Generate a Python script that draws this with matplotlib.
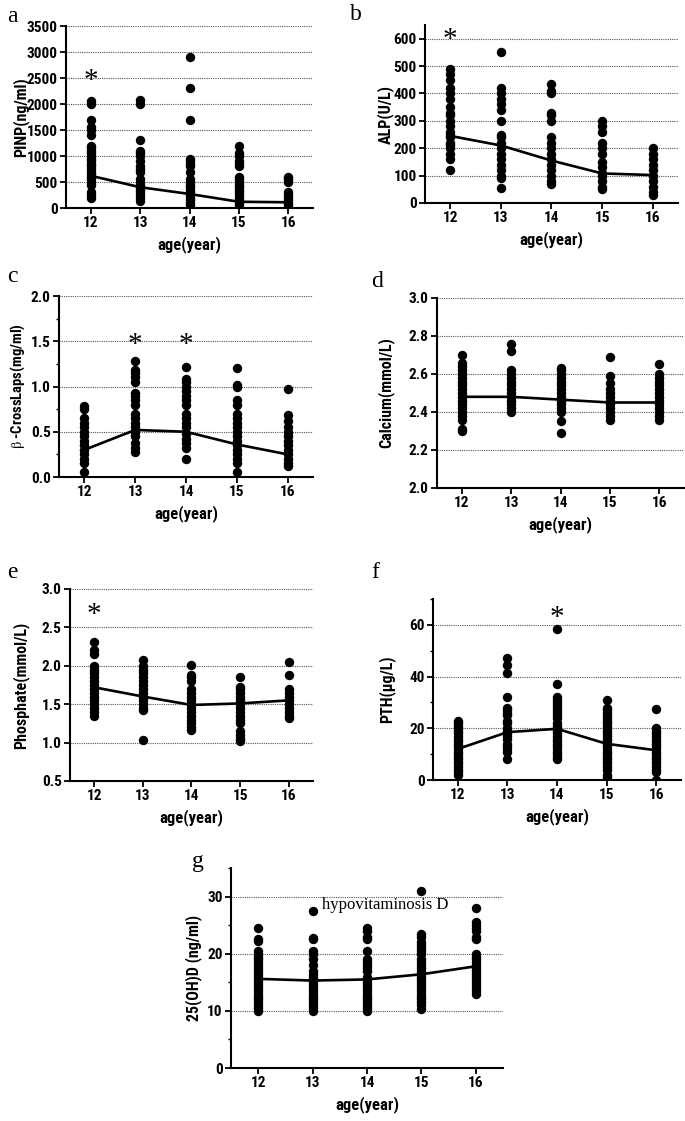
import numpy as np
import matplotlib
matplotlib.use("Agg")
import matplotlib.pyplot as plt
from matplotlib import font_manager
from matplotlib.ticker import MultipleLocator

bold_names = {f.name for f in font_manager.fontManager.ttflist
              if str(f.weight) in ("700", "bold")}
SANS = "Liberation Sans"
for cand in ["Liberation Sans Narrow", "Arial Narrow", "Roboto Condensed", "Archivo Narrow",
             "PT Sans Narrow", "Open Sans Condensed", "Pragati Narrow", "IBM Plex Sans Condensed"]:
    if cand in bold_names:
        SANS = cand
        break
SERIF = "Liberation Serif"
plt.rcParams["font.family"] = [SANS, "DejaVu Sans"]
plt.rcParams["mathtext.fontset"] = "stix"

ages = [12, 13, 14, 15, 16]
age_ticks = ["12", "13", "14", "15", "16"]

# ---- data ----
pinp = [
    [200, 250, 300, 450, 500, 550, 600, 650, 700, 750, 800, 850, 900, 950, 1000, 1050, 1100, 1150, 1200, 1400, 1500, 1550, 1700, 2000, 2050],
    [130, 200, 250, 300, 350, 400, 450, 500, 550, 700, 750, 800, 900, 1000, 1050, 1100, 1300, 2000, 2080],
    [50, 100, 150, 200, 250, 300, 350, 400, 450, 500, 550, 700, 800, 850, 900, 950, 1700, 2300, 2900],
    [50, 100, 150, 200, 250, 300, 350, 400, 450, 500, 550, 600, 800, 850, 900, 1000, 1050, 1200],
    [50, 100, 150, 200, 250, 300, 500, 550, 600],
]
pinp_line = [620, 400, 270, 120, 110]

alp = [
    [120, 160, 180, 200, 210, 220, 240, 250, 260, 280, 300, 320, 330, 350, 380, 400, 420, 450, 470, 490],
    [55, 90, 100, 120, 140, 160, 180, 200, 220, 240, 250, 300, 340, 360, 380, 400, 420, 550],
    [70, 80, 100, 120, 140, 160, 180, 200, 220, 240, 300, 320, 330, 400, 410, 435],
    [50, 60, 80, 100, 110, 130, 150, 180, 200, 220, 260, 280, 300],
    [30, 40, 60, 80, 100, 120, 140, 160, 180, 200],
]
alp_line = [245, 210, 155, 108, 102]

ctx = [
    [0.05, 0.15, 0.2, 0.25, 0.3, 0.35, 0.4, 0.45, 0.5, 0.55, 0.6, 0.65, 0.75, 0.78],
    [0.28, 0.32, 0.38, 0.45, 0.5, 0.55, 0.6, 0.65, 0.7, 0.8, 0.85, 0.9, 0.93, 1.05, 1.1, 1.15, 1.18, 1.28],
    [0.2, 0.32, 0.38, 0.42, 0.48, 0.55, 0.6, 0.65, 0.7, 0.8, 0.85, 0.9, 0.95, 1.0, 1.05, 1.08, 1.21],
    [0.06, 0.15, 0.2, 0.25, 0.3, 0.35, 0.4, 0.45, 0.5, 0.55, 0.6, 0.65, 0.7, 0.8, 0.85, 1.0, 1.02, 1.2],
    [0.12, 0.15, 0.2, 0.25, 0.3, 0.35, 0.4, 0.45, 0.5, 0.55, 0.62, 0.68, 0.97],
]
ctx_line = [0.30, 0.52, 0.50, 0.36, 0.25]

calcium = [
    [2.30, 2.31, 2.36, 2.38, 2.40, 2.42, 2.44, 2.46, 2.48, 2.50, 2.52, 2.54, 2.56, 2.58, 2.60, 2.62, 2.64, 2.66, 2.70],
    [2.40, 2.42, 2.44, 2.46, 2.48, 2.50, 2.52, 2.54, 2.56, 2.58, 2.60, 2.62, 2.72, 2.76],
    [2.29, 2.35, 2.40, 2.42, 2.44, 2.46, 2.48, 2.50, 2.52, 2.54, 2.56, 2.58, 2.60, 2.62, 2.63],
    [2.36, 2.38, 2.40, 2.42, 2.44, 2.46, 2.48, 2.50, 2.52, 2.55, 2.59, 2.69],
    [2.36, 2.38, 2.40, 2.42, 2.44, 2.46, 2.48, 2.50, 2.52, 2.54, 2.56, 2.58, 2.60, 2.65],
]
calcium_line = [2.48, 2.48, 2.465, 2.45, 2.45]

phosphate = [
    [1.35, 1.40, 1.45, 1.50, 1.55, 1.60, 1.65, 1.70, 1.75, 1.80, 1.85, 1.90, 1.95, 2.00, 2.15, 2.20, 2.31],
    [1.03, 1.42, 1.45, 1.50, 1.55, 1.60, 1.65, 1.70, 1.75, 1.80, 1.85, 1.90, 1.95, 2.00, 2.07],
    [1.17, 1.20, 1.25, 1.30, 1.35, 1.40, 1.45, 1.50, 1.55, 1.60, 1.65, 1.70, 1.80, 1.85, 1.88, 2.01],
    [1.02, 1.05, 1.10, 1.15, 1.25, 1.30, 1.35, 1.40, 1.45, 1.50, 1.55, 1.60, 1.65, 1.70, 1.72, 1.86],
    [1.32, 1.35, 1.40, 1.45, 1.50, 1.55, 1.60, 1.65, 1.70, 1.88, 2.05],
]
phosphate_line = [1.72, 1.60, 1.49, 1.51, 1.55]

pth = [
    [2, 3, 4, 5, 6, 7, 8, 9, 10, 11, 12, 13, 14, 15, 16, 17, 18, 19, 20, 21, 22, 23],
    [8, 11, 12, 13, 14, 16, 17, 18, 19, 20, 22, 23, 25, 26, 27, 28, 32, 41.5, 44.5, 47],
    [8, 9, 10, 11, 12, 13, 14, 15, 16, 17, 18, 19, 20, 21, 22, 24, 25, 26, 27, 28, 29, 30, 31, 32, 37, 58.5],
    [1, 2, 4, 5, 6, 7, 8, 9, 10, 11, 12, 13, 14, 15, 16, 17, 18, 19, 20, 21, 22, 23, 24, 25, 26, 27, 28, 31],
    [0, 3, 4, 5, 6, 7, 8, 9, 10, 11, 12, 13, 14, 15, 16, 17, 18, 19, 20, 27.5],
]
pth_line = [12, 18.5, 19.8, 14, 11.5]

vitd = [
    [10, 10.5, 11, 11.5, 12, 12.5, 13, 13.5, 14, 14.5, 15, 15.5, 16, 16.5, 17, 17.5, 18, 18.5, 19, 19.5, 20, 20.5, 22.2, 22.5, 24.5],
    [10, 10.5, 11, 11.5, 12, 12.5, 13, 13.5, 14, 14.5, 15, 15.5, 16, 16.5, 17, 18, 19, 20, 20.5, 22.5, 22.8, 27.5],
    [10, 10.5, 11, 11.5, 12, 12.5, 13, 13.5, 14, 14.5, 15, 15.5, 16, 17, 17.5, 18, 18.5, 19, 20.5, 22.5, 23, 24, 24.5],
    [10.3, 11, 11.5, 12, 12.5, 13, 13.5, 14, 14.5, 15, 15.5, 16, 16.5, 17, 17.5, 18, 18.5, 19, 20, 20.5, 21, 21.5, 22, 23, 23.5, 31],
    [13, 13.5, 14, 14.5, 15, 15.5, 16, 16.5, 17, 17.5, 18, 18.5, 19, 19.5, 20, 22.5, 23, 24, 24.5, 25, 25.5, 28],
]
vitd_line = [15.6, 15.3, 15.5, 16.4, 17.8]

W, H = 685, 1121
fig = plt.figure(figsize=(W / 100, H / 100), dpi=100)


def make_ax(l, r, t, b):
    return fig.add_axes([l / W, 1 - b / H, (r - l) / W, (b - t) / H])


def panel(box, data, line, ylim, major, ylabel, letter, letter_xy, label_dx, minor=None, stars=(),
          label_size=11.5):
    ax = make_ax(*box)
    for age, vals in zip(ages, data):
        ax.scatter(np.full(len(vals), age), vals, s=46, color="black", zorder=3, linewidths=0)
    ax.plot(ages, line, color="black", lw=1.9, zorder=4)
    ax.set_xlim(11.5, 16.5)
    ax.set_ylim(*ylim)
    ax.yaxis.set_major_locator(MultipleLocator(major))
    if minor:
        ax.yaxis.set_minor_locator(MultipleLocator(minor))
    for y in np.arange(ylim[0] + major, ylim[1] + major * 0.01, major):
        ax.axhline(y, color="#555555", lw=0.8, ls=(0, (1, 1)), zorder=1)
    ax.set_xticks(ages)
    ax.set_xticklabels(age_ticks)
    for s in ("top", "right"):
        ax.spines[s].set_visible(False)
    for s in ("left", "bottom"):
        ax.spines[s].set_linewidth(1.5)
    ax.tick_params(axis="both", which="major", direction="out", length=4, width=1.3,
                   labelsize=11, pad=2)
    ax.tick_params(axis="y", which="minor", direction="out", length=2.5, width=1.0)
    for lab in ax.get_xticklabels() + ax.get_yticklabels():
        lab.set_fontweight("bold")
    ax.set_xlabel("age(year)", fontsize=12, fontweight="bold", labelpad=4)
    ax.set_ylabel(ylabel, fontsize=label_size, fontweight="bold", va="center")
    ax.yaxis.set_label_coords(-label_dx / (box[1] - box[0]), 0.5)
    for (sx, sy) in stars:
        ax.text(sx, sy, "*", ha="center", va="center", fontsize=21, family=SERIF)
    fig.text(letter_xy[0] / W, 1 - letter_xy[1] / H, letter, family=SERIF,
             fontsize=17, ha="left", va="center")
    return ax


panel((66, 313, 26, 208), pinp, pinp_line, (0, 3500), 500, "PINP(ng/ml)", "a", (7, 17), 45,
      stars=[(12, 2450)])
panel((425, 678, 25, 203), alp, alp_line, (0, 650), 100, "ALP(U/L)", "b", (350, 15), 40,
      stars=[(12, 595)])
panel((59, 313, 296, 477), ctx, ctx_line, (0, 2.0), 0.5, r"$\mathrm{\beta}$ -CrossLaps(mg/ml)", "c",
      (7, 277), 41, minor=0.25, stars=[(13, 1.46), (14, 1.46)], label_size=10.5)
panel((437, 684, 298, 488), calcium, calcium_line, (2.0, 3.0), 0.2, "Calcium(mmol/L)", "d", (371, 281), 51)
panel((70, 313, 589, 781), phosphate, phosphate_line, (0.5, 3.0), 0.5, "Phosphate(mmol/L)", "e", (7, 573), 49,
      stars=[(12, 2.66)])
panel((433, 681, 599, 780), pth, pth_line, (0, 70), 20, "PTH(μg/L)", "f", (371, 573), 46,
      minor=10, stars=[(14, 62.5)])
axg = panel((231, 503, 868, 1068), vitd, vitd_line, (0, 35), 10, "25(OH)D (ng/ml)", "g", (192, 861), 37,
            minor=5)
axg.text(13.17, 28.5, "hypovitaminosis D", family=SERIF, fontsize=12, ha="left", va="center")

fig.savefig("out.png", dpi=100)
